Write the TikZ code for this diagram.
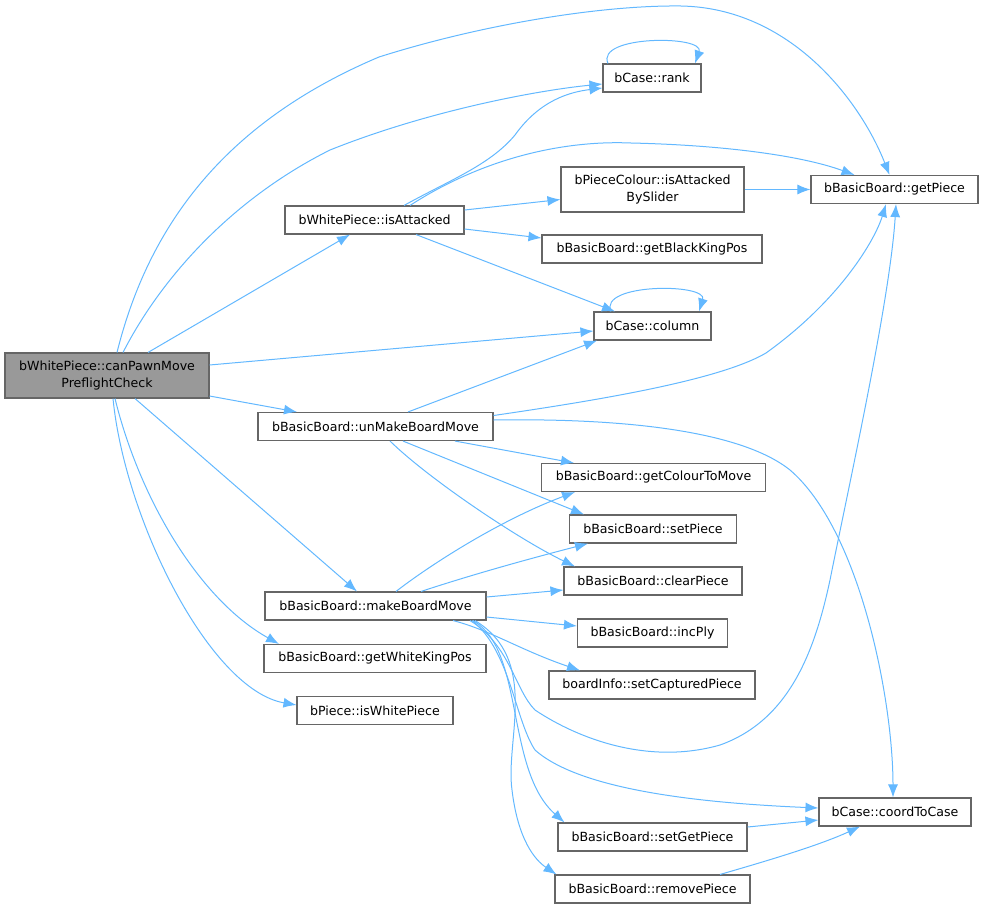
\documentclass[tikz,border=0pt]{standalone}
\usepackage{fontspec}
\setmainfont{DejaVu Sans}
\usetikzlibrary{arrows.meta}
\definecolor{edgeblue}{HTML}{63B8FF}
\definecolor{boxline}{HTML}{666666}
\definecolor{rootfill}{HTML}{999999}
\tikzset{
    fn-box/.style = {draw=boxline, fill=white, line width=1.1pt, rectangle, inner sep=0pt, minimum height=28pt, align=center, font=\fontsize{12.6}{17.6}\selectfont},
    fn-root/.style = {fn-box, fill=rootfill, minimum height=45pt},
    call-edge/.style = {draw=edgeblue, line width=1pt, -{Latex[length=13pt,width=10pt]}},
}
\begin{document}
\begin{tikzpicture}[x=1pt,y=-1pt]
\useasboundingbox (0,0) rectangle (984,908);
\node[fn-root, minimum width=204pt] (cp) at (107,375.5) {bWhitePiece::canPawnMove\\PreflightCheck};
\node[fn-box, minimum width=98pt] (rank) at (652,78) {bCase::rank};
\node[fn-box, minimum width=179pt] (ia) at (374.5,220) {bWhitePiece::isAttacked};
\node[fn-box, minimum width=183pt, minimum height=45pt] (slider) at (652.5,189.5) {bPieceColour::isAttacked\\BySlider};
\node[fn-box, minimum width=167pt] (gp) at (894.5,189.5) {bBasicBoard::getPiece};
\node[fn-box, minimum width=220pt] (bkp) at (652,249) {bBasicBoard::getBlackKingPos};
\node[fn-box, minimum width=117pt] (col) at (652.5,326) {bCase::column};
\node[fn-box, minimum width=235pt] (umb) at (375.5,426.5) {bBasicBoard::unMakeBoardMove};
\node[fn-box, minimum width=224pt] (gctm) at (653.5,477.5) {bBasicBoard::getColourToMove};
\node[fn-box, minimum width=167pt] (sp) at (653,529) {bBasicBoard::setPiece};
\node[fn-box, minimum width=178pt] (clr) at (653,581) {bBasicBoard::clearPiece};
\node[fn-box, minimum width=221pt] (mbm) at (375.5,606) {bBasicBoard::makeBoardMove};
\node[fn-box, minimum width=150pt] (inc) at (652.5,633) {bBasicBoard::incPly};
\node[fn-box, minimum width=222pt] (gwkp) at (375,658.5) {bBasicBoard::getWhiteKingPos};
\node[fn-box, minimum width=206pt] (scp) at (652,685) {boardInfo::setCapturedPiece};
\node[fn-box, minimum width=156pt] (iwp) at (375,710.5) {bPiece::isWhitePiece};
\node[fn-box, minimum width=152pt] (c2c) at (895,812) {bCase::coordToCase};
\node[fn-box, minimum width=189pt] (sgp) at (652.5,837) {bBasicBoard::setGetPiece};
\node[fn-box, minimum width=195pt] (rmp) at (652.5,889) {bBasicBoard::removePiece};

% calls from canPawnMovePreflightCheck
\draw[call-edge] ([xshift=10pt]cp.north) .. controls (150,220) and (230,120) .. (379,57)
    .. controls (480,25) and (600,5) .. (681,6) .. controls (790,8) and (860,100) .. ([xshift=-5pt]gp.north);
\draw[call-edge] ([xshift=16pt]cp.north) .. controls (160,280) and (230,200) .. (330,150)
    .. controls (430,110) and (540,90) .. ([yshift=-6pt]rank.west);
\draw[call-edge] ([xshift=41pt]cp.north) -- ([xshift=-24.5pt]ia.south);
\draw[call-edge] ([yshift=10.5pt]cp.east) -- ([yshift=-5pt]col.west);
\draw[call-edge] ([yshift=-20.5pt]cp.east) -- ([xshift=-78.5pt]umb.north);
\draw[call-edge] ([xshift=28pt]cp.south) -- ([xshift=-18.5pt]mbm.north);
\draw[call-edge] ([xshift=8pt]cp.south) .. controls (140,500) and (200,600) .. ([xshift=-96pt]gwkp.north);
\draw[call-edge] ([xshift=6pt]cp.south) .. controls (125,520) and (210,690) .. ([yshift=5.5pt]iwp.west);

% calls from isAttacked
\draw[call-edge] ([xshift=29.5pt]ia.north) .. controls (450,180) and (490,165) .. (515,135)
    .. controls (540,100) and (570,92) .. ([yshift=-10pt]rank.west);
\draw[call-edge] ([xshift=35.5pt]ia.north) .. controls (480,160) and (560,140) .. (631,143)
    .. controls (720,145) and (800,155) .. ([xshift=-40pt]gp.north);
\draw[call-edge] ([yshift=10pt]ia.east) -- ([yshift=-10pt]slider.west);
\draw[call-edge] ([yshift=-9pt]ia.east) -- ([yshift=11pt]bkp.west);
\draw[call-edge] ([xshift=41.5pt]ia.south) -- ([xshift=-37.5pt]col.north);
\draw[call-edge] (slider.east) -- (gp.west);

% recursive calls
\draw[call-edge] ([xshift=-44pt]rank.north) .. controls (595,35) and (705,35) .. ([xshift=43pt]rank.north);
\draw[call-edge] ([xshift=-41.5pt]col.north) .. controls (598,283) and (708,283) .. ([xshift=46.5pt]col.north);

% calls from unMakeBoardMove
\draw[call-edge] ([xshift=32.5pt]umb.north) -- ([xshift=-55.5pt]col.south);
\draw[call-edge] ([yshift=11pt]umb.east) .. controls (600,400) and (720,380) .. (766,353)
    .. controls (840,300) and (875,240) .. ([xshift=-8.5pt]gp.south);
\draw[call-edge] ([yshift=6.5pt]umb.east) .. controls (620,418) and (740,430) .. (790,470)
    .. controls (860,530) and (893,700) .. ([xshift=-2pt]c2c.north);
\draw[call-edge] ([xshift=79.5pt]umb.south) -- ([xshift=-79.5pt]gctm.north);
\draw[call-edge] ([xshift=27.5pt]umb.south) -- ([xshift=-69pt]sp.north);
\draw[call-edge] ([xshift=14.5pt]umb.south) .. controls (430,480) and (520,540) .. ([xshift=-78pt]clr.north);

% calls from makeBoardMove
\draw[call-edge] ([xshift=20.5pt]mbm.north) .. controls (430,565) and (500,520) .. ([xshift=-78.5pt]gctm.south);
\draw[call-edge] ([xshift=45.5pt]mbm.north) .. controls (480,572) and (540,556) .. ([xshift=-65pt]sp.south);
\draw[call-edge] ([yshift=9pt]mbm.east) -- ([yshift=-9pt]clr.west);
\draw[call-edge] ([yshift=-11pt]mbm.east) -- ([yshift=7pt]inc.west);
\draw[call-edge] ([xshift=77.5pt]mbm.south) .. controls (490,630) and (520,650) .. ([xshift=-72pt]scp.north);
\draw[call-edge] ([xshift=94.5pt]mbm.south) .. controls (510,645) and (515,690) .. (535,710)
    .. controls (580,740) and (650,765) .. (720,745) .. controls (790,720) and (815,650) .. (830,580)
    .. controls (850,480) and (890,300) .. ([xshift=1.5pt]gp.south);
\draw[call-edge] ([xshift=96.5pt]mbm.south) .. controls (510,650) and (515,720) .. (535,750)
    .. controls (580,790) and (700,803) .. ([yshift=4pt]c2c.west);
\draw[call-edge] ([xshift=97.5pt]mbm.south) .. controls (525,650) and (505,770) .. ([xshift=-88pt]sgp.north);
\draw[call-edge] ([xshift=99.5pt]mbm.south) .. controls (540,660) and (505,740) .. (512,790)
    .. controls (518,840) and (535,860) .. ([xshift=-96pt]rmp.north);

% calls into coordToCase
\draw[call-edge] ([yshift=10pt]sgp.east) -- ([yshift=-8pt]c2c.west);
\draw[call-edge] ([xshift=67.5pt]rmp.north) .. controls (770,860) and (820,845) .. ([xshift=-35pt]c2c.south);
\end{tikzpicture}
\end{document}
